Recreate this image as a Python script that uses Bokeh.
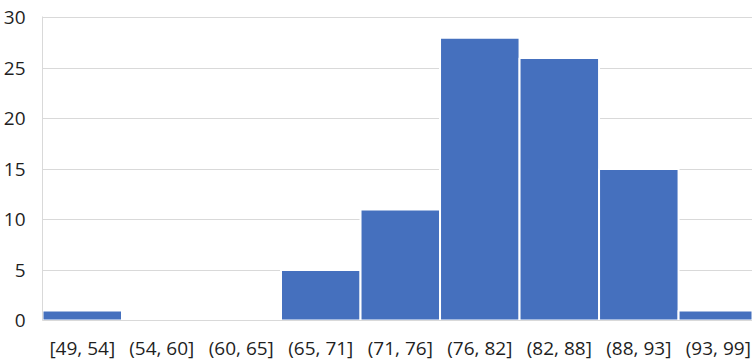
from bokeh.plotting import figure
from bokeh.models import FixedTicker, Range1d, ColumnDataSource
from bokeh.embed import file_html
from bokeh.resources import INLINE

# Histogram bins and counts
bins = ["[49, 54]", "(54, 60]", "(60, 65]", "(65, 71]", "(71, 76]",
        "(76, 82]", "(82, 88]", "(88, 93]", "(93, 99]"]
counts = [1, 0, 0, 5, 11, 28, 26, 15, 1]
y_ticks = [0, 5, 10, 15, 20, 25, 30]

centers = [i + 0.5 for i in range(len(bins))]
src = ColumnDataSource(dict(x=centers, top=counts))

p = figure(width=752, height=363, output_backend="svg", toolbar_location=None,
           x_range=Range1d(0, 8.93), y_range=Range1d(0, 30.1),
           min_border_left=0, min_border_right=0, min_border_top=16,
           min_border_bottom=0)

p.vbar(x="x", top="top", width=1.0, bottom=0, source=src,
       fill_color="#4570BE", line_color="white", line_width=2)

p.outline_line_color = None
p.background_fill_color = "white"
p.border_fill_color = "white"

# x axis: bin labels at bar centres
p.xaxis.ticker = FixedTicker(ticks=centers)
p.xaxis.major_label_overrides = {c: b for c, b in zip(centers, bins)}
p.xaxis.axis_line_color = "#d9d9d9"
p.xaxis.major_tick_line_color = None
p.xaxis.minor_tick_line_color = None
p.xaxis.major_tick_out = 0
p.xaxis.major_label_standoff = 14
p.xaxis.major_label_text_font = "Open Sans"
p.xaxis.major_label_text_font_size = "19px"
p.xaxis.major_label_text_color = "#1f1f1f"
p.xgrid.grid_line_color = None

# y axis
p.yaxis.ticker = FixedTicker(ticks=y_ticks)
p.yaxis.axis_line_color = "#d9d9d9"
p.yaxis.major_tick_line_color = None
p.yaxis.minor_tick_line_color = None
p.yaxis.major_tick_out = 0
p.yaxis.major_label_standoff = 17
p.yaxis.major_label_text_font = "Open Sans"
p.yaxis.major_label_text_font_size = "19px"
p.yaxis.major_label_text_color = "#1f1f1f"
p.ygrid.grid_line_color = "#d9d9d9"
p.ygrid.grid_line_width = 1
p.ygrid.level = "underlay"

open("out.html", "w").write(file_html(p, INLINE))
